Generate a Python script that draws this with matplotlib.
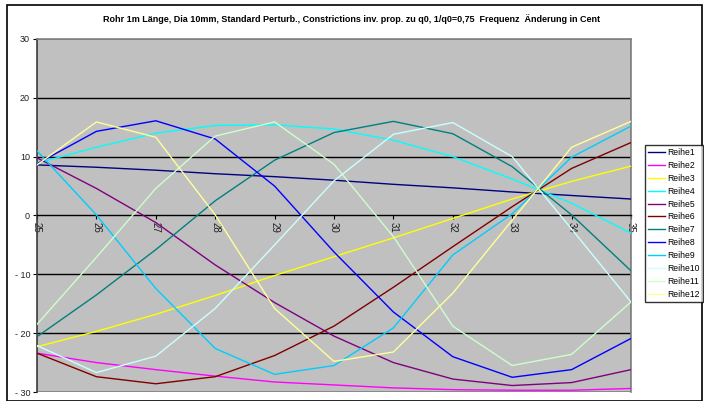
import matplotlib
matplotlib.use("Agg")
import matplotlib.pyplot as plt
from matplotlib.patches import Rectangle

plt.rcParams["font.family"] = ["Liberation Sans", "DejaVu Sans"]

x = [25, 26, 27, 28, 29, 30, 31, 32, 33, 34, 35]
x_labels = [str(v) for v in x]
y_ticks = [-30, -20, -10, 0, 10, 20, 30]
y_labels = ["- 30", "- 20", "- 10", "0", "10", "20", "30"]

reihe1 = [8.6, 8.2, 7.7, 7.1, 6.6, 6.0, 5.3, 4.7, 4.0, 3.4, 2.8]
reihe2 = [-23.4, -25.0, -26.2, -27.3, -28.3, -28.8, -29.3, -29.6, -29.7, -29.7, -29.4]
reihe3 = [-22.3, -19.7, -16.8, -13.6, -10.2, -7.0, -3.8, -0.5, 2.8, 5.8, 8.4]
reihe4 = [8.9, 11.6, 14.0, 15.3, 15.4, 14.7, 12.8, 10.0, 6.2, 2.1, -3.0]
reihe5 = [9.8, 4.6, -1.2, -8.4, -14.8, -20.5, -25.0, -27.8, -28.9, -28.4, -26.2]
reihe6 = [-23.4, -27.4, -28.6, -27.4, -23.8, -18.8, -12.2, -5.3, 1.5, 8.0, 12.4]
reihe7 = [-20.6, -13.5, -5.8, 2.5, 9.4, 14.1, 16.0, 13.9, 8.3, 0.1, -9.4]
reihe8 = [8.8, 14.3, 16.1, 13.0, 5.0, -6.2, -16.4, -24.0, -27.5, -26.2, -20.9]
reihe9 = [11.0, 0.1, -12.4, -22.6, -27.0, -25.5, -19.1, -6.7, 0.3, 9.9, 15.2]
reihe10 = [-22.1, -26.7, -23.9, -15.8, -5.0, 5.9, 13.8, 15.8, 10.0, -2.3, -14.7]
reihe11 = [-18.5, -7.1, 4.6, 13.5, 15.9, 8.7, -3.6, -18.8, -25.5, -23.6, -14.7]
reihe12 = [8.6, 15.9, 13.3, 0.1, -15.8, -24.8, -23.2, -13.2, -0.8, 11.6, 16.0]

series = [reihe1, reihe2, reihe3, reihe4, reihe5, reihe6,
          reihe7, reihe8, reihe9, reihe10, reihe11, reihe12]
names = ["Reihe%d" % (i + 1) for i in range(12)]
colors = ["#000080", "#FF00FF", "#FFFF00", "#00FFFF", "#800080", "#800000",
          "#008080", "#0000FF", "#00CCFF", "#CCFFFF", "#CCFFCC", "#FFFF99"]

fig = plt.figure(figsize=(7.04, 4.01), dpi=100)
ax = fig.add_axes([37 / 704, 1 - 392 / 401, (631 - 37) / 704, (392 - 39) / 401])
ax.set_facecolor("#C0C0C0")

for yv in [-20, -10, 10, 20]:
    ax.axhline(yv, color="black", lw=1.0, zorder=1)

for s, n, c in zip(series, names, colors):
    ax.plot(x, s, color=c, lw=1.0, label=n, zorder=3)

ax.set_xlim(25, 35)
ax.set_ylim(-30, 30)

for side in ["top", "right"]:
    ax.spines[side].set_color("#808080")
    ax.spines[side].set_linewidth(1.2)
ax.spines["left"].set_color("#404040")
ax.spines["left"].set_linewidth(1.2)
ax.spines["bottom"].set_position(("data", 0))
ax.spines["bottom"].set_color("black")
ax.spines["bottom"].set_linewidth(1.0)
# bottom border of the plot area
ax.add_patch(Rectangle((0, 0), 1, 1, transform=ax.transAxes, fill=False,
                       edgecolor="#808080", lw=1.2, zorder=0.5))

ax.set_yticks(y_ticks)
ax.set_yticklabels(y_labels, fontsize=6.5, color="#202020")
ax.set_xticks(x)
ax.set_xticklabels(x_labels, fontsize=7, rotation=-90, color="#202020")
ax.tick_params(axis="both", direction="out", length=3, width=0.8, pad=2)

fig.text(0.5, 1 - 19 / 401,
         "Rohr 1m Länge, Dia 10mm, Standard Perturb., Constrictions inv. prop. zu q0, 1/q0=0,75  Frequenz  Änderung in Cent",
         ha="center", va="center", fontsize=6.5, fontweight="bold")

leg = fig.legend(loc="upper left", bbox_to_anchor=(645 / 704, 1 - 145 / 401),
                 fontsize=6.2, frameon=True, fancybox=False, handlelength=2.0,
                 labelspacing=0.45, borderpad=0.35, handletextpad=0.25,
                 borderaxespad=0)
leg.get_frame().set_edgecolor("black")
leg.get_frame().set_linewidth(1.0)

# outer chart border
fig.add_artist(Rectangle((7 / 704, 0), 695 / 704, 1 - 5 / 401,
                         transform=fig.transFigure, fill=False,
                         edgecolor="black", lw=1.2))

fig.savefig("out.png", dpi=100)
